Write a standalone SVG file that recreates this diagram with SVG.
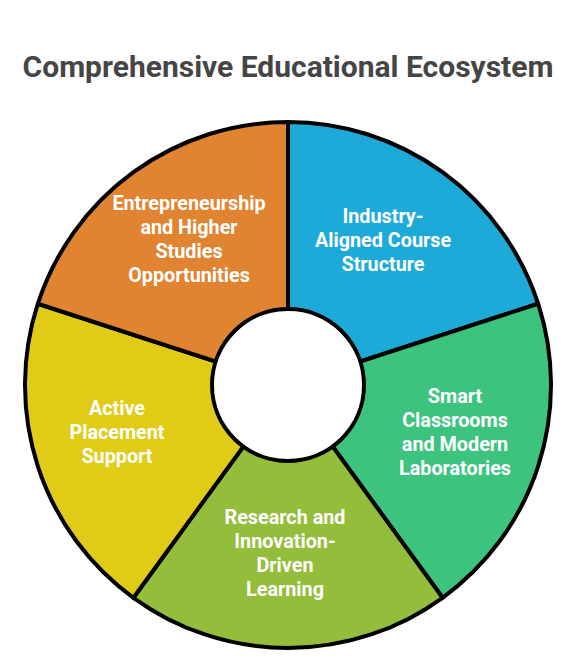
<svg xmlns="http://www.w3.org/2000/svg" width="577" height="659" viewBox="0 0 577 659">
<style>
.seg{stroke:#000;stroke-width:4;stroke-linejoin:round}
.lbl{font-family:Roboto,"Liberation Sans",sans-serif;font-weight:bold;font-size:19.8px;fill:#fff;text-anchor:middle}
.title{font-family:Roboto,"Liberation Sans",sans-serif;font-weight:bold;font-size:30px;fill:#454545;text-anchor:middle}
</style>
<rect width="577" height="659" fill="#fff"/>
<text class="title" x="288" y="77">Comprehensive Educational Ecosystem</text>
<g id="industry">
<path class="seg" fill="#1EAAD8" d="M288,385 L288,122 A263,263 0 0 1 538.13,303.73 Z"/>
<text class="lbl"><tspan x="383" y="223">Industry-</tspan><tspan x="383" y="247">Aligned Course</tspan><tspan x="383" y="271">Structure</tspan></text>
</g>
<g id="smart">
<path class="seg" fill="#3CC47F" d="M288,385 L538.13,303.73 A263,263 0 0 1 442.59,597.77 Z"/>
<text class="lbl"><tspan x="455" y="403">Smart</tspan><tspan x="455" y="427">Classrooms</tspan><tspan x="455" y="451">and Modern</tspan><tspan x="455" y="475">Laboratories</tspan></text>
</g>
<g id="research">
<path class="seg" fill="#93BD3A" d="M288,385 L442.59,597.77 A263,263 0 0 1 133.41,597.77 Z"/>
<text class="lbl"><tspan x="285" y="524">Research and</tspan><tspan x="285" y="548">Innovation-</tspan><tspan x="285" y="572">Driven</tspan><tspan x="285" y="596">Learning</tspan></text>
</g>
<g id="placement">
<path class="seg" fill="#E0CB16" d="M288,385 L133.41,597.77 A263,263 0 0 1 37.87,303.73 Z"/>
<text class="lbl"><tspan x="117" y="415">Active</tspan><tspan x="117" y="439">Placement</tspan><tspan x="117" y="463">Support</tspan></text>
</g>
<g id="entrepreneurship">
<path class="seg" fill="#E08432" d="M288,385 L37.87,303.73 A263,263 0 0 1 288,122 Z"/>
<text class="lbl"><tspan x="189" y="210">Entrepreneurship</tspan><tspan x="189" y="234">and Higher</tspan><tspan x="189" y="258">Studies</tspan><tspan x="189" y="282">Opportunities</tspan></text>
</g>
<g id="connectors"></g>
<g id="hub">
<circle cx="288" cy="385" r="76" fill="#fff" stroke="#000" stroke-width="4"/>
</g>
</svg>
